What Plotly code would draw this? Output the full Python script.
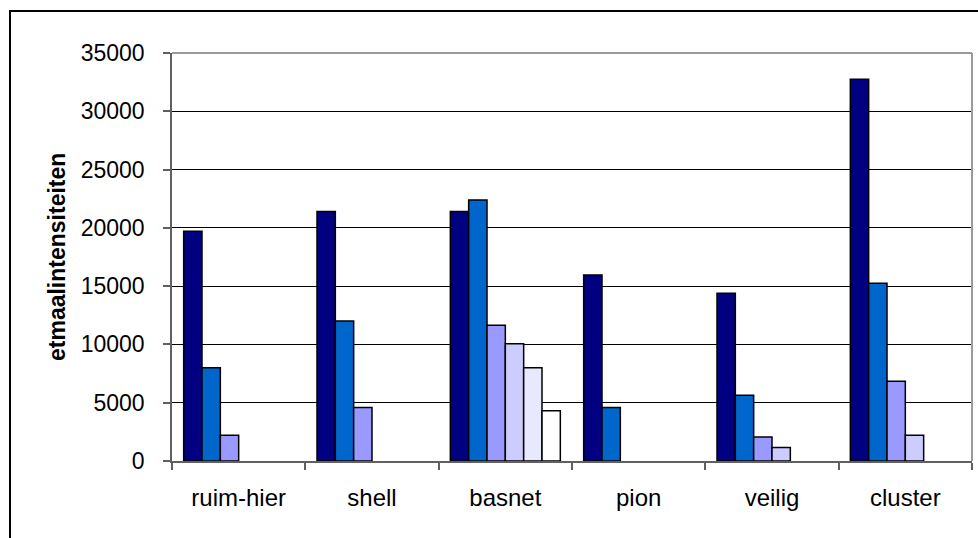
import plotly.graph_objects as go

# Daily traffic intensities per scenario, up to six series per location
categories = ["ruim-hier", "shell", "basnet", "pion", "veilig", "cluster"]
series_1 = [19700, 21400, 21400, 15950, 14400, 32750]
series_2 = [8000, 12000, 22400, 4600, 5650, 15250]
series_3 = [2200, 4600, 11650, None, 2050, 6850]
series_4 = [None, None, 10050, None, 1150, 2200]
series_5 = [None, None, 8000, None, None, None]
series_6 = [None, None, 4300, None, None, None]

y_ticks = [0, 5000, 10000, 15000, 20000, 25000, 30000, 35000]
y_title = "etmaalintensiteiten"

series = [series_1, series_2, series_3, series_4, series_5, series_6]
colors = ["#000080", "#0066CC", "#9999FF", "#CCCCFF", "#E8E8FF", "#FFFFFF"]

FONT = "Liberation Sans, Arial, sans-serif"

fig = go.Figure()
for i, (vals, col) in enumerate(zip(series, colors)):
    fig.add_trace(go.Bar(
        x=categories, y=vals, name=f"reeks {i + 1}",
        marker=dict(color=col, line=dict(color="#000000", width=1.5)),
        showlegend=False,
    ))

W, H = 978, 538
L, R, T, B = 172, 6, 53, 77

fig.update_layout(
    width=W, height=H,
    margin=dict(l=L, r=R, t=T, b=B, pad=0),
    paper_bgcolor="#FFFFFF", plot_bgcolor="#FFFFFF",
    barmode="group", bargap=0.175, bargroupgap=0,
    font=dict(family=FONT, size=23, color="#000000"),
    xaxis=dict(
        showgrid=False, showline=True, linecolor="#606060", linewidth=1.5,
        ticks="outside", ticklen=7, tickcolor="#606060", tickwidth=1.5,
        tickson="boundaries", tickfont=dict(size=24, family=FONT),
        ticklabelstandoff=14,
    ),
    yaxis=dict(
        range=[0, 35000], tickvals=y_ticks, ticktext=[str(v) for v in y_ticks],
        showgrid=True, gridcolor="#000000", gridwidth=1, zeroline=False,
        showline=True, linecolor="#606060", linewidth=1.5,
        ticks="outside", ticklen=7, tickcolor="#606060", tickwidth=1.5,
        tickfont=dict(size=23, family=FONT), ticklabelstandoff=14,
    ),
    shapes=[
        # light top and right frame of the plot area
        dict(type="line", xref="paper", yref="paper", x0=0, x1=1, y0=1, y1=1,
             line=dict(color="#9A9A9A", width=2), layer="above"),
        dict(type="line", xref="paper", yref="paper", x0=1, x1=1, y0=0, y1=1,
             line=dict(color="#9A9A9A", width=2), layer="above"),
        # outer chart border
        dict(type="rect", xref="paper", yref="paper",
             x0=(10 - L) / (W - L - R), x1=(W + 20 - L) / (W - L - R),
             y0=-(H + 20 - (H - B)) / (H - T - B), y1=(H - 11 - B) / (H - T - B),
             line=dict(color="#000000", width=2), layer="above"),
    ],
    annotations=[
        dict(text=f"<b>{y_title}</b>", xref="paper", yref="paper",
             x=(57 - L) / (W - L - R), y=0.5, textangle=-90, showarrow=False,
             xanchor="center", yanchor="middle",
             font=dict(size=23, family=FONT, color="#000000")),
    ],
)

fig.write_html("out.html")
